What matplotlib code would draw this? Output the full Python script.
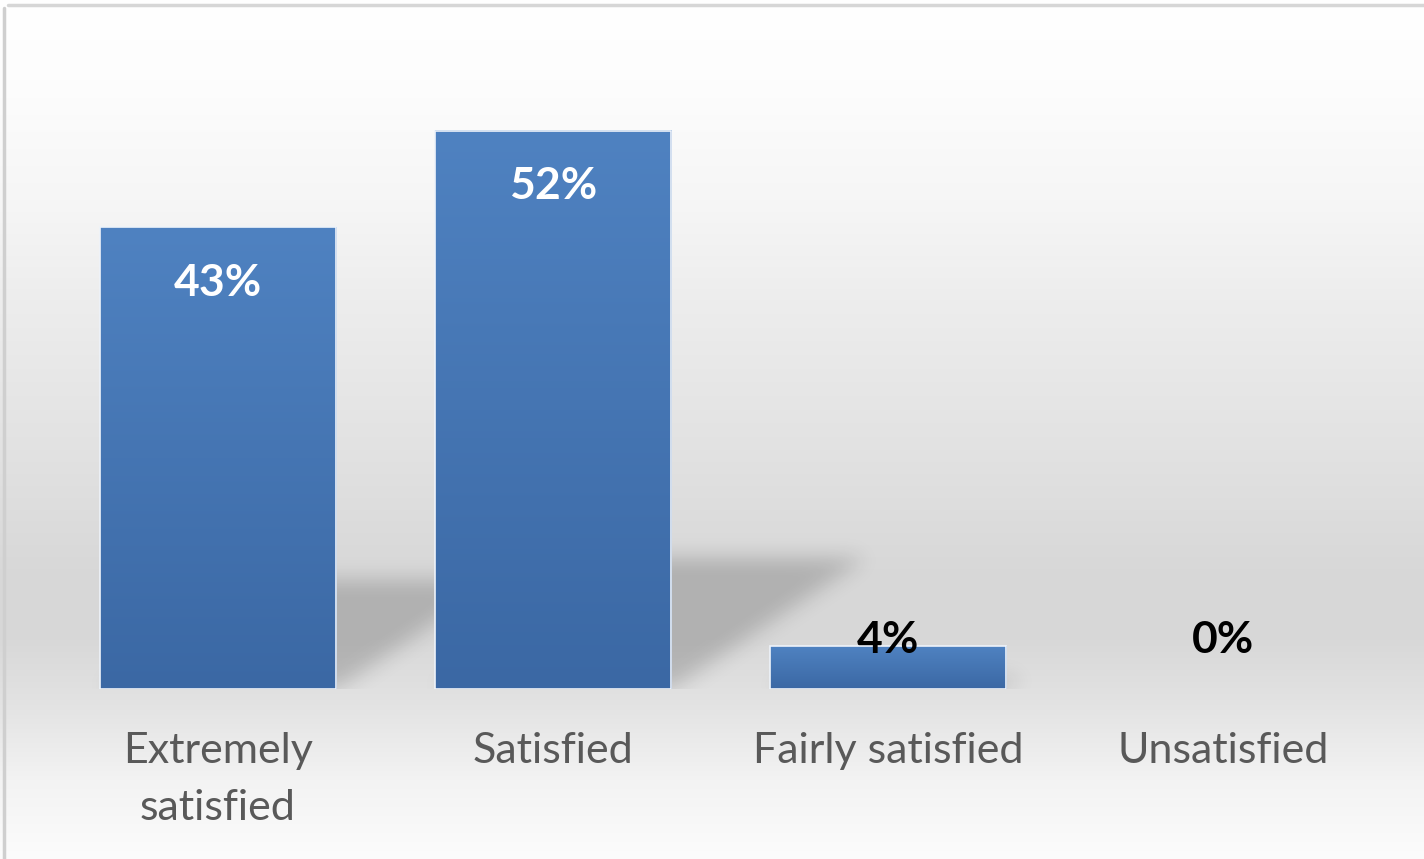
import numpy as np
import matplotlib.pyplot as plt
from matplotlib.path import Path
from matplotlib.colors import LinearSegmentedColormap

plt.rcParams['font.family'] = ['Lato', 'DejaVu Sans']

categories = ['Extremely\nsatisfied', 'Satisfied', 'Fairly satisfied', 'Unsatisfied']
shares = [43, 52, 4, 0]
share_labels = ['43%', '52%', '4%', '0%']

W, H = 1424, 859
fig = plt.figure(figsize=(W / 100, H / 100), dpi=100)

# backdrop: soft vertical grey band behind the plot
bg = fig.add_axes([0, 0, 1, 1], zorder=0)
bg.set_xlim(0, W)
bg.set_ylim(H, 0)
bg.axis('off')
stop_y = [0, 80, 200, 300, 450, 580, 640, 700, 780, 859]
stop_v = [255, 253, 246, 237, 226, 215, 216, 226, 243, 252]
shade = np.interp(np.arange(H), stop_y, stop_v) / 255.0
bg_img = np.repeat(shade[:, None, None], 3, axis=2)
bg.imshow(bg_img, extent=[0, W, H, 0], aspect='auto', interpolation='bilinear')
bg.plot([4, 4], [H, 8], color='#cfcfcf', lw=2.5, solid_capstyle='round')
bg.plot([8, W], [5, 5], color='#d6d6d6', lw=2.5, solid_capstyle='round')

ax = fig.add_axes([50.5 / W, 170 / H, 1340 / W, 644.4 / H], zorder=1)
ax.set_facecolor('none')
x = np.arange(len(categories))
bar_w = 0.705
xlim = (-0.5, len(categories) - 0.5)
ylim = (0, 60)

# cast shadows: skewed copy of each bar, blurred
nx, ny = 1340, 644
gx = np.linspace(*xlim, nx)
gy = np.linspace(*ylim, ny)
GX, GY = np.meshgrid(gx, gy)
pts = np.column_stack([GX.ravel(), GY.ravel()])
mask = np.zeros(GX.shape)
for xi, v in zip(x, shares):
    if v <= 0:
        continue
    dy = 0.235 * v
    dx = 0.0112 * v
    x0, x1 = xi - bar_w / 2, xi + bar_w / 2
    poly = Path([(x0, 0), (x1, 0), (x1 + dx, dy), (x0 + dx, dy), (x0, 0)])
    mask = np.maximum(mask, poly.contains_points(pts).reshape(GX.shape))


def blur(a, sigma):
    r = int(3 * sigma)
    k = np.exp(-0.5 * (np.arange(-r, r + 1) / sigma) ** 2)
    k /= k.sum()
    a = np.apply_along_axis(lambda m: np.convolve(m, k, mode='same'), 0, a)
    a = np.apply_along_axis(lambda m: np.convolve(m, k, mode='same'), 1, a)
    return a


mask = blur(mask.astype(float), 10)
shadow = np.zeros((ny, nx, 4))
shadow[..., 3] = mask * 0.18
ax.imshow(shadow, extent=[*xlim, *ylim], origin='lower', aspect='auto',
          interpolation='bilinear', zorder=1)

# bars with a top-to-bottom blue gradient
bar_cmap = LinearSegmentedColormap.from_list('bar', ['#3b68a4', '#4f82c1'])
grad = np.linspace(0, 1, 256).reshape(-1, 1)
bars = ax.bar(x, shares, width=bar_w, color='none', edgecolor='#eef3fa',
              linewidth=1.2, zorder=3)
for b in bars:
    if b.get_height() <= 0:
        b.set_linewidth(0)
        continue
    ax.imshow(grad, extent=[b.get_x(), b.get_x() + b.get_width(), 0, b.get_height()],
              origin='lower', aspect='auto', cmap=bar_cmap, zorder=2)

for xi, v, lab in zip(x, shares, share_labels):
    inside = v > 10
    ax.text(xi, max(v - 5.2, 4.6), lab, ha='center', va='center',
            fontsize=32, fontweight='bold',
            color='white' if inside else 'black', zorder=4)

ax.set_xlim(*xlim)
ax.set_ylim(*ylim)
ax.set_yticks([])
ax.set_xticks(x, categories)
ax.tick_params(axis='x', length=0, pad=31, labelsize=31, labelcolor='#595959')
for lbl in ax.get_xticklabels():
    lbl.set_linespacing(1.6)
for s in ax.spines.values():
    s.set_visible(False)

fig.savefig('out.png', dpi=100)
